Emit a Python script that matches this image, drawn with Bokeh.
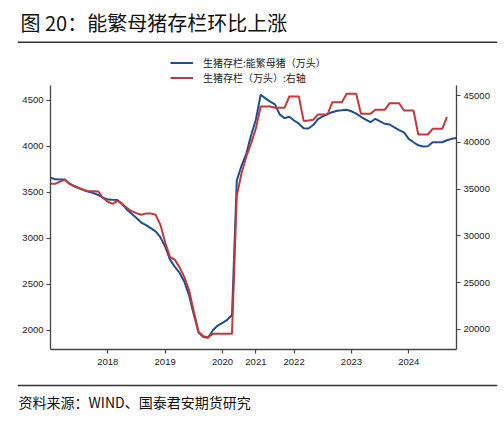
from bokeh.plotting import figure
from bokeh.models import (Range1d, LinearAxis, FixedTicker, SingleIntervalTicker,
                          Legend, LegendItem, Span, Label)
from bokeh.layouts import column, row
from bokeh.embed import file_html
from bokeh.resources import INLINE

# ---------------- data ----------------
title_text = "图 20：能繁母猪存栏环比上涨"
source_text = "资料来源：WIND、国泰君安期货研究"
sow_label = "生猪存栏:能繁母猪（万头）"
hog_label = "生猪存栏（万头）:右轴"

tick_pos = [12, 24, 36, 43, 51, 63, 75]
tick_labels = ["2018", "2019", "2020", "2021", "2022", "2023", "2024"]

# 能繁母猪存栏（万头）, left axis
sow = [3657, 3640, 3638, 3638, 3592, 3565, 3543, 3522, 3505, 3490,
       3470, 3440, 3420, 3417, 3415, 3374, 3310, 3265, 3220, 3170,
       3143, 3110, 3075, 3011, 2910, 2770, 2690, 2625, 2530, 2380,
       2170, 1975, 1925, 1917, 2000, 2050, 2080, 2113, 2165, 3627,
       3790, 3920, 4120, 4290, 4560, 4520, 4485, 4455, 4345, 4305,
       4320, 4280, 4245, 4195, 4192, 4230, 4295, 4325, 4350, 4370,
       4385, 4390, 4396, 4380, 4355, 4320, 4290, 4261, 4298, 4270,
       4243, 4236, 4205, 4175, 4150, 4080, 4043, 4010, 3997, 4000,
       4043, 4043, 4043, 4065, 4080, 4090]

# 生猪存栏（万头）, right axis
hog = [35568, 35568, 35800, 35996, 35550, 35300, 35100, 34900, 34776, 34776,
       34750, 34050, 33650, 33426, 33750, 33420, 32980, 32650, 32420, 32249,
       32400, 32400, 32250, 31200, 29300, 27750, 27450, 26650, 25600, 24200,
       21900, 19700, 19250, 19146, 19500, 19500, 19500, 19500, 19500, 34300,
       36700, 38500, 39900, 41500, 43845, 43845, 43845, 43706, 43706, 43706,
       44915, 44915, 44915, 42300, 42350, 42420, 42988, 42988, 42988, 44305,
       44305, 44305, 45205, 45205, 45205, 43063, 43063, 43063, 43491, 43491,
       43491, 44198, 44198, 44198, 43416, 43416, 43416, 40847, 40847, 40847,
       41457, 41457, 41457, 42699]

x_sow = list(range(len(sow)))
x_hog = list(range(len(hog)))

# ---------------- style ----------------
W = 504
BLUE = "#1F4E8C"
RED = "#C0393B"
CJK = "Noto Sans CJK SC"
LAT = "Liberation Sans"
AX = "#444444"
TXT = "#222222"

# ---------------- header: title, rule, legend ----------------
top = figure(width=W, height=85, x_range=Range1d(0, 480), y_range=Range1d(0, 85),
             output_backend="svg", toolbar_location=None,
             x_axis_location=None, y_axis_location=None,
             min_border_left=17, min_border_right=7, min_border_top=0, min_border_bottom=0)
top.outline_line_color = None
top.xgrid.visible = False
top.ygrid.visible = False
top.add_layout(Label(x=3, y=63, text=title_text, text_font=CJK, text_font_size="20px",
                     text_baseline="middle", text_color="#111111"))
top.add_layout(Span(location=43.3, dimension="width", line_color="#333333", line_width=1.5))

# legend keys: the same series drawn in the header, where they fall outside its ranges
k1 = top.line(x_sow, sow, line_color=BLUE, line_width=2)
k2 = top.line(x_hog, hog, line_color=RED, line_width=2)
legend = Legend(items=[LegendItem(label=sow_label, renderers=[k1]),
                       LegendItem(label=hog_label, renderers=[k2])],
                location=(153, 0), orientation="vertical",
                padding=0, margin=0, spacing=0,
                glyph_height=13, label_height=13, glyph_width=23, label_standoff=10,
                label_text_font=CJK, label_text_font_size="10px", label_text_color=TXT,
                border_line_alpha=0, background_fill_alpha=0)
top.add_layout(legend, "center")

# ---------------- main chart ----------------
p = figure(width=W, height=287, x_range=Range1d(0, len(sow) - 1),
           y_range=Range1d(1790, 4660),
           output_backend="svg", toolbar_location=None,
           min_border_left=50, min_border_right=48, min_border_top=0, min_border_bottom=23)
p.outline_line_color = None
p.xgrid.visible = False
p.ygrid.visible = False
p.extra_y_ranges = {"hog": Range1d(17827, 46093)}

p.line(x_sow, sow, line_color=BLUE, line_width=2)
p.line(x_hog, hog, line_color=RED, line_width=2, y_range_name="hog")

right_axis = LinearAxis(y_range_name="hog", ticker=SingleIntervalTicker(interval=5000))
p.add_layout(right_axis, "right")
p.yaxis[0].ticker = SingleIntervalTicker(interval=500)
p.xaxis.ticker = FixedTicker(ticks=tick_pos)
p.xaxis.major_label_overrides = {t: l for t, l in zip(tick_pos, tick_labels)}

for ax in p.xaxis + p.yaxis:
    ax.axis_line_color = AX
    ax.axis_line_width = 1.3
    ax.major_tick_line_color = AX
    ax.major_tick_line_width = 1.2
    ax.major_tick_in = 0
    ax.major_tick_out = 4
    ax.minor_tick_line_color = None
    ax.major_label_text_font = LAT
    ax.major_label_text_font_size = "9.5px"
    ax.major_label_text_color = TXT
    ax.major_label_standoff = 3
p.xaxis.major_label_standoff = 5

# ---------------- footer ----------------
bot = figure(width=W, height=54, x_range=Range1d(0, 480), y_range=Range1d(0, 54),
             output_backend="svg", toolbar_location=None,
             x_axis_location=None, y_axis_location=None,
             min_border_left=17, min_border_right=7, min_border_top=0, min_border_bottom=0)
bot.outline_line_color = None
bot.xgrid.visible = False
bot.ygrid.visible = False
bot.add_layout(Span(location=41, dimension="width", line_color="#333333", line_width=1.5))
bot.add_layout(Label(x=1, y=25, text=source_text, text_font=CJK, text_font_size="14px",
                     text_baseline="middle", text_color="#111111"))

layout = column(row(top), row(p), row(bot))
open("out.html", "w").write(file_html(layout, INLINE))
